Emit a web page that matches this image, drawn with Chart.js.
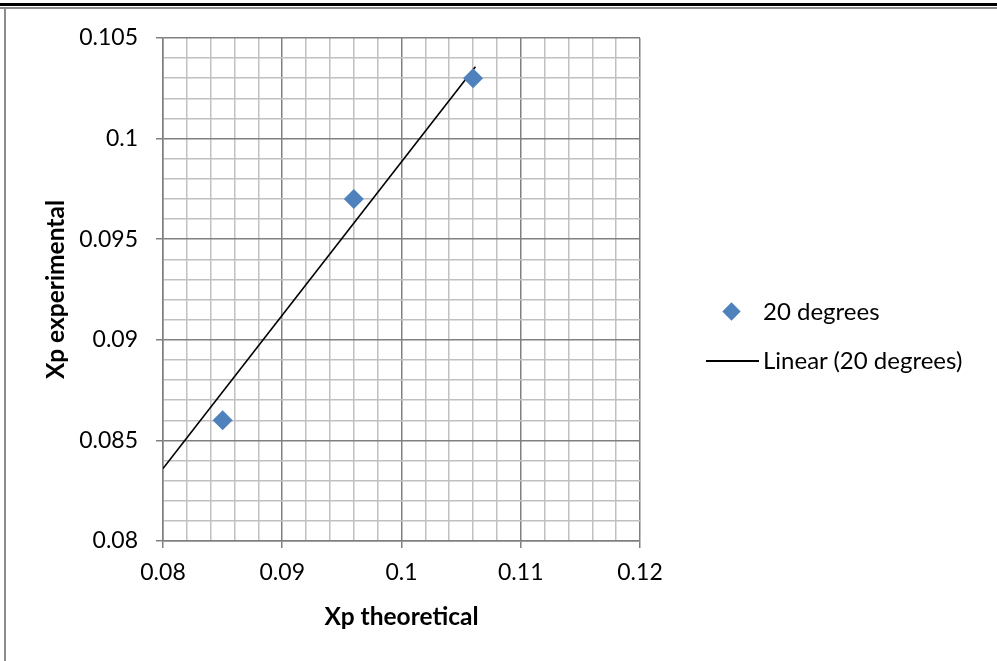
<!DOCTYPE html>
<html>
<head>
<meta charset="utf-8">
<script src="https://cdn.jsdelivr.net/npm/chart.js@4/dist/chart.umd.min.js"></script>
<style>
    html, body { margin: 0; padding: 0; background: #ffffff; }
    #wrap { position: relative; width: 997px; height: 661px; overflow: hidden; font-family: Lato, sans-serif; color: #000; }
    #chart { position: absolute; left: 0; top: 0; }
    .bar-top { position: absolute; left: 0; top: 3px; width: 997px; height: 3px; background: #000; }
    .bar-grey { position: absolute; left: 0; top: 7px; width: 997px; height: 2px; background: #8c8c8c; }
    .bar-left { position: absolute; left: 4px; top: 9px; width: 2px; height: 652px; background: #8c8c8c; }
    .legend-item { position: absolute; font-size: 24px; line-height: 28px; white-space: nowrap; }
    .legend-diamond { position: absolute; width: 13px; height: 13px; background: #4f81bd; transform: rotate(45deg); }
    .legend-line { position: absolute; height: 2px; background: #000; }
</style>
</head>
<body>
<div id="wrap">
    <canvas id="chart" width="997" height="661"></canvas>
    <div class="bar-top"></div>
    <div class="bar-grey"></div>
    <div class="bar-left"></div>

    <div class="legend-diamond" style="left:725px; top:305px;"></div>
    <div class="legend-item" style="left:763px; top:297px;">20 degrees</div>
    <div class="legend-line" style="left:706px; top:360px; width:53px;"></div>
    <div class="legend-item" style="left:763px; top:346px;">Linear (20 degrees)</div>
</div>

<script>
// ==========
// DONNEES
// ==========
const xpTheoretical = [0.085, 0.096, 0.106];
const xpExperimental = [0.086, 0.097, 0.103];

// extremites de la courbe de tendance
const trendX = [0.08, 0.1062];
const trendY = [0.0836, 0.10357];

const xTicks = [0.08, 0.09, 0.1, 0.11, 0.12];
const yTicks = [0.08, 0.085, 0.09, 0.095, 0.1, 0.105];

const seriesLabel = '20 degrees';
const trendLabel = 'Linear (20 degrees)';

// ==========
// GRAPHIQUE
// ==========
const majorGrid = '#808080';
const minorGrid = '#c0c0c0';

function isMajor(value, list) {
    return list.some(v => Math.abs(v - value) < 1e-7);
}

const scatterPoints = xpTheoretical.map((x, i) => ({ x: x, y: xpExperimental[i] }));
const trendPoints = trendX.map((x, i) => ({ x: x, y: trendY[i] }));

const ctx = document.getElementById('chart').getContext('2d');

new Chart(ctx, {
    type: 'scatter',
    data: {
        datasets: [
            {
                label: seriesLabel,
                data: scatterPoints,
                pointStyle: 'rectRot',
                pointRadius: 10,
                pointHoverRadius: 10,
                backgroundColor: '#4f81bd',
                borderColor: '#4f81bd',
                borderWidth: 0,
                order: 1
            },
            {
                label: trendLabel,
                type: 'line',
                data: trendPoints,
                showLine: true,
                borderColor: '#000000',
                borderWidth: 1.6,
                pointRadius: 0,
                fill: false,
                order: 2
            }
        ]
    },
    options: {
        responsive: false,
        animation: false,
        devicePixelRatio: 1,
        layout: {
            padding: { left: 0, top: 38, right: 357, bottom: 0 }
        },
        plugins: {
            legend: { display: false },
            tooltip: { enabled: false }
        },
        scales: {
            x: {
                type: 'linear',
                min: 0.08,
                max: 0.12,
                afterFit: function(scale) { scale.height = 120; },
                ticks: {
                    stepSize: 0.002,
                    autoSkip: false,
                    maxRotation: 0,
                    padding: 11,
                    color: '#000000',
                    font: { family: 'Lato', size: 23 },
                    callback: function(value) {
                        return isMajor(value, xTicks) ? String(parseFloat(value.toFixed(3))) : '';
                    }
                },
                grid: {
                    color: c => isMajor(c.tick.value, xTicks) ? majorGrid : minorGrid,
                    lineWidth: 1.5,
                    tickLength: 7,
                    tickColor: c => isMajor(c.tick.value, xTicks) ? majorGrid : 'rgba(0,0,0,0)'
                },
                border: { color: majorGrid, width: 1.5 },
                title: {
                    display: true,
                    text: 'Xp theoretical',
                    color: '#000000',
                    font: { family: 'Lato', size: 24.5, weight: 'bold' },
                    padding: { top: 0, bottom: 29 }
                }
            },
            y: {
                type: 'linear',
                min: 0.08,
                max: 0.105,
                afterFit: function(scale) { scale.width = 163; },
                ticks: {
                    stepSize: 0.001,
                    autoSkip: false,
                    padding: 18,
                    color: '#000000',
                    font: { family: 'Lato', size: 23 },
                    callback: function(value) {
                        return isMajor(value, yTicks) ? String(parseFloat(value.toFixed(3))) : '';
                    }
                },
                grid: {
                    color: c => isMajor(c.tick.value, yTicks) ? majorGrid : minorGrid,
                    lineWidth: 1.5,
                    tickLength: 7,
                    tickColor: c => isMajor(c.tick.value, yTicks) ? majorGrid : 'rgba(0,0,0,0)'
                },
                border: { color: majorGrid, width: 1.5 },
                title: {
                    display: true,
                    text: 'Xp experimental',
                    color: '#000000',
                    font: { family: 'Lato', size: 24.5, weight: 'bold' },
                    padding: { top: 41, bottom: 0 }
                }
            }
        }
    }
});
</script>
</body>
</html>
